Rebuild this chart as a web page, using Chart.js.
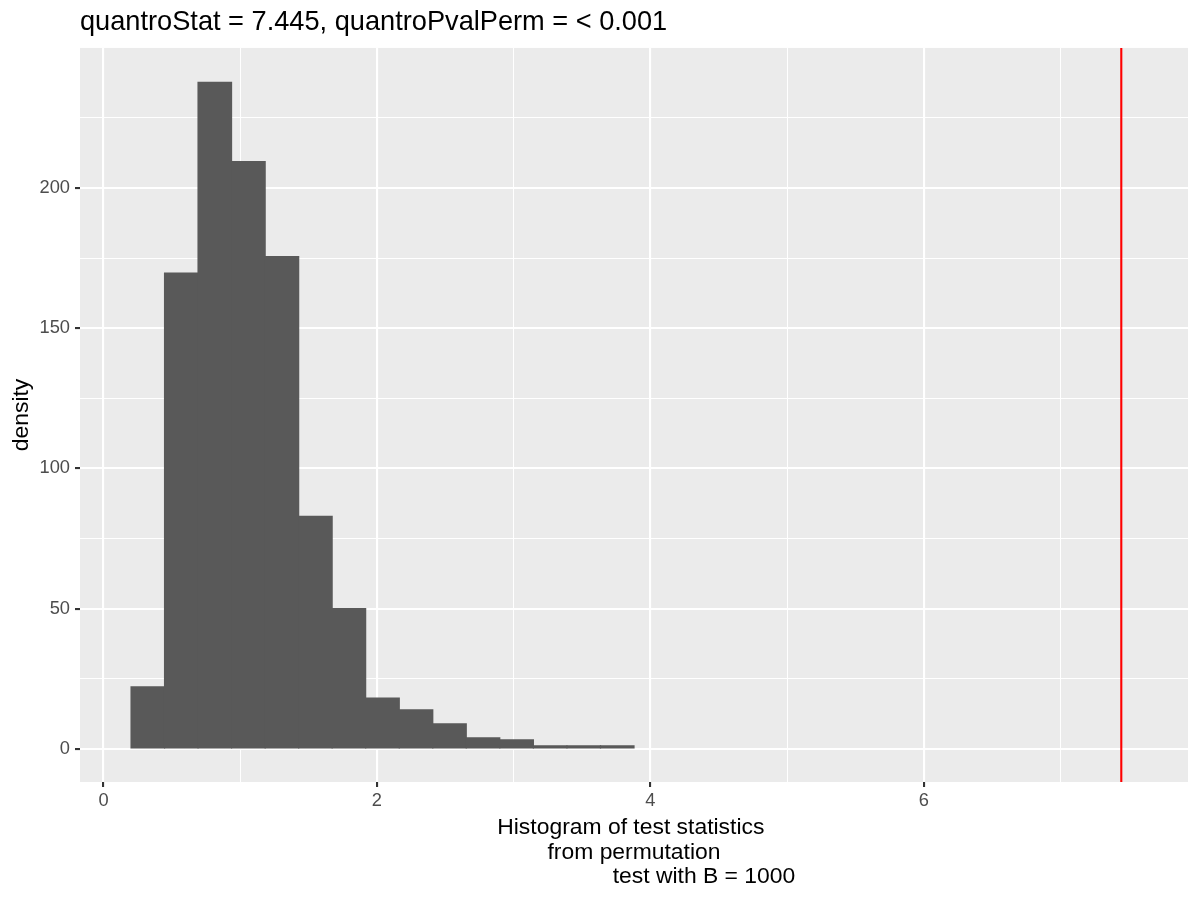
<!DOCTYPE html>
<html>
<head>
<meta charset="utf-8">
<script src="https://cdn.jsdelivr.net/npm/chart.js@4/dist/chart.umd.min.js"></script>
<style>
  html, body { margin: 0; padding: 0; background: #ffffff; }
  #wrap { width: 1200px; height: 900px; }
</style>
</head>
<body>
<div id="wrap"><canvas id="c" width="1200" height="900"></canvas></div>
<script>
// ---- data ----
const binCenters = [0.324, 0.569, 0.814, 1.060, 1.305, 1.550, 1.795, 2.041, 2.286, 2.531, 2.776, 3.022, 3.267, 3.513, 3.758];
const densities  = [22.1, 169.6, 237.6, 209.4, 175.5, 82.9, 50.0, 18.1, 13.9, 8.9, 3.9, 3.2, 1.1, 1.1, 1.1];
const quantroStat = 7.445;
const quantroPvalPermText = "< 0.001";
const xTickLabels = ["0", "2", "4", "6"];
const yTickLabels = ["0", "50", "100", "150", "200"];
const xTitleLines = [
  "Histogram of test statistics ",
  "from permutation",
  "                      test with B = 1000"
];
const yTitle = "density";
const xLimits = [-0.172, 7.933];
const yLimits = [-11.8, 249.9];

const FONT = "'Liberation Sans', Arial, Helvetica, sans-serif";

const panelBg = {
  id: 'panelBg',
  beforeDraw(chart) {
    const a = chart.chartArea, ctx = chart.ctx;
    ctx.save();
    ctx.fillStyle = '#EBEBEB';
    ctx.fillRect(a.left, a.top, a.right - a.left, a.bottom - a.top);
    ctx.restore();
  }
};

const statLine = {
  id: 'statLine',
  afterDatasetsDraw(chart) {
    const a = chart.chartArea, ctx = chart.ctx;
    const px = chart.scales.x.getPixelForValue(quantroStat);
    ctx.save();
    ctx.strokeStyle = '#FF0000';
    ctx.lineWidth = 2.1;
    ctx.beginPath();
    ctx.moveTo(px, a.top);
    ctx.lineTo(px, a.bottom);
    ctx.stroke();
    ctx.restore();
  }
};

const isMajorX = v => xTickLabels.includes(String(v));
const isMajorY = v => yTickLabels.includes(String(v));

new Chart(document.getElementById('c'), {
  type: 'bar',
  data: {
    datasets: [{
      data: binCenters.map((x, i) => ({ x: x, y: densities[i] })),
      backgroundColor: '#595959',
      borderWidth: 0,
      inflateAmount: 0.6,
      barPercentage: 1.0,
      categoryPercentage: 1.0
    }]
  },
  options: {
    responsive: false,
    animation: false,
    devicePixelRatio: 1,
    layout: { padding: { left: 0, right: 12, top: 0, bottom: 0 } },
    plugins: {
      legend: { display: false },
      tooltip: { enabled: false },
      title: {
        display: true,
        text: 'quantroStat = ' + quantroStat.toFixed(3) + ', quantroPvalPerm = ' + quantroPvalPermText,
        align: 'start',
        fullSize: false,
        color: '#000000',
        font: { family: FONT, size: 27.2, weight: 'normal', lineHeight: 1.2 },
        padding: { top: 6.2, bottom: 9.1 }
      }
    },
    scales: {
      x: {
        type: 'linear',
        min: xLimits[0],
        max: xLimits[1],
        offset: false,
        border: { display: false },
        grid: {
          offset: false,
          color: '#FFFFFF',
          lineWidth: c => (c.tick && isMajorX(c.tick.value)) ? 2.1 : 1.05,
          drawTicks: true,
          tickLength: 5,
          tickWidth: 2.1,
          tickColor: c => (c.tick && isMajorX(c.tick.value)) ? '#333333' : 'rgba(0,0,0,0)'
        },
        ticks: {
          stepSize: 1,
          includeBounds: false,
          autoSkip: false,
          maxRotation: 0,
          padding: 2.5,
          color: '#4D4D4D',
          font: { family: FONT, size: 18.3, lineHeight: 1.2 },
          callback: v => isMajorX(v) ? String(v) : ''
        },
        title: {
          display: true,
          text: xTitleLines,
          color: '#000000',
          font: { family: FONT, size: 22.9, lineHeight: 1.07 },
          padding: { top: 0, bottom: 11 }
        },
        afterFit: s => { s.height = 118; }
      },
      y: {
        type: 'linear',
        min: yLimits[0],
        max: yLimits[1],
        border: { display: false },
        grid: {
          color: '#FFFFFF',
          lineWidth: c => (c.tick && isMajorY(c.tick.value)) ? 2.1 : 1.05,
          drawTicks: true,
          tickLength: 5,
          tickWidth: 2.1,
          tickColor: c => (c.tick && isMajorY(c.tick.value)) ? '#333333' : 'rgba(0,0,0,0)'
        },
        ticks: {
          stepSize: 25,
          includeBounds: false,
          autoSkip: false,
          padding: 5,
          color: '#4D4D4D',
          font: { family: FONT, size: 18.3, lineHeight: 1.2 },
          callback: v => isMajorY(v) ? String(v) : ''
        },
        title: {
          display: true,
          text: yTitle,
          color: '#000000',
          font: { family: FONT, size: 22.9, lineHeight: 1.2 },
          padding: { top: 7.7, bottom: 0 }
        },
        afterFit: s => { s.width = 80; }
      }
    }
  },
  plugins: [panelBg, statLine]
});
</script>
</body>
</html>
